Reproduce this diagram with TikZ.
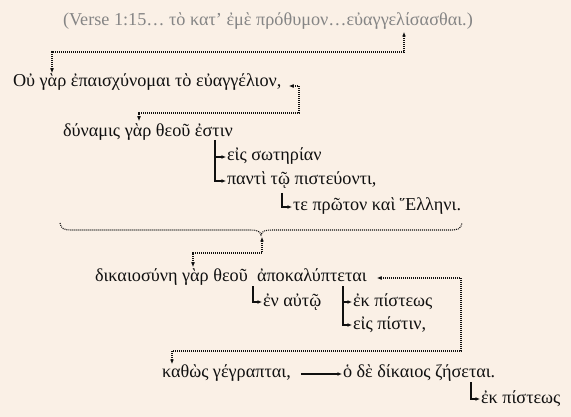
\documentclass[tikz,border=0pt]{standalone}
\usepackage{fontspec}
\setmainfont{Liberation Serif}
\usetikzlibrary{arrows.meta,calc}
\definecolor{bg}{HTML}{FAF0E6}
\definecolor{titlegrey}{HTML}{858585}
\definecolor{ink}{HTML}{101010}
\tikzset{
  txt/.style={anchor=base west, inner sep=0pt, outer sep=0pt, text=ink, font=\fontsize{18.2}{21}\selectfont},
  ttl/.style={txt, text=titlegrey},
  dotline/.style={draw=ink, line width=1.1pt, dash pattern=on 1pt off 1pt},
  mytip/.tip={Latex[length=4.5pt,width=4pt]},
  branch/.style={draw=ink, line width=1.1pt, -mytip},
}
\begin{document}
\begin{tikzpicture}[x=1pt,y=-1pt]
\fill[bg] (0,0) rectangle (571,417);
\useasboundingbox (0,0) rectangle (571,417);

% text nodes
\node[ttl] (title) at (63,26) {(Verse 1:15… τὸ κατ’ ἐμὲ πρόθυμον…εὐαγγελίσασθαι.)};
\node[txt] (l1) at (13,87) {Οὐ γὰρ ἐπαισχύνομαι τὸ εὐαγγέλιον,};
\node[txt] (l2) at (63,137) {δύναμις γὰρ θεοῦ ἐστιν};
\node[txt] (s1) at (227,161) {εἰς σωτηρίαν};
\node[txt] (s2) at (227,185) {παντὶ τῷ πιστεύοντι,};
\node[txt] (s3) at (293,211) {τε πρῶτον καὶ Ἕλληνι.};
\node[txt] (l3a) at (95,282) {δικαιοσύνη γὰρ θεοῦ};
\node[txt] (l3b) at (257,282) {ἀποκαλύπτεται};
\node[txt] (r1) at (263,306) {ἐν αὐτῷ};
\node[txt] (r2) at (353,306) {ἐκ πίστεως};
\node[txt] (r3) at (353,329) {εἰς πίστιν,};
\node[txt] (k1) at (162,377) {καθὼς γέγραπται,};
\node[txt] (k2) at (343,377) {ὁ δὲ δίκαιος ζήσεται.};
\node[txt] (k3) at (481,403) {ἐκ πίστεως};

% coordinates for connector ends
\coordinate (tA) at (404,32);
\coordinate (tB) at (52,73);
\coordinate (aA) at (289,86);
\coordinate (aB) at (139,121);
\coordinate (bA) at (262,237);
\coordinate (bB) at (193,267);
\coordinate (cA) at (377,278);
\coordinate (cB) at (172,364);

% dotted connectors
\draw[dotline, mytip-mytip] (tB) -- (52,52) -- (404,52) -- (tA);
\draw[dotline, mytip-mytip] (aA) -- (299,86) -- (299,113) -- (139,113) -- (aB);
\draw[dotline, mytip-mytip] (bA) -- (262,253) -- (193,253) -- (bB);
\draw[dotline, mytip-mytip] (cA) -- (461,278) -- (461,351) -- (172,351) -- (cB);

% brace
\draw[dotline] (60,223) .. controls (61,229) and (64,230) .. (72,230)
  -- (250,230) .. controls (257,230) and (260,231) .. (261,235)
  .. controls (262,231) and (265,230) .. (272,230)
  -- (450,230) .. controls (458,230) and (461,229) .. (462,223);

% solid branches
\draw[branch] (215,140) |- ($(s2.base west)+(-1,-4)$);
\draw[branch] (215,157) -- ($(s1.base west)+(-1,-4)$);
\draw[branch] (282,193) |- ($(s3.base west)+(-1,-4)$);
\draw[branch] (253,286) |- ($(r1.base west)+(-1,-4)$);
\draw[branch] (343,286) |- ($(r3.base west)+(-1,-4)$);
\draw[branch] (343,302) -- ($(r2.base west)+(-1,-4)$);
\draw[branch] ($(k1.base east)+(10,-3)$) -- ($(k2.base west)+(-1,-3)$);
\draw[branch] (471,382) |- ($(k3.base west)+(-1,-4)$);
\end{tikzpicture}
\end{document}
